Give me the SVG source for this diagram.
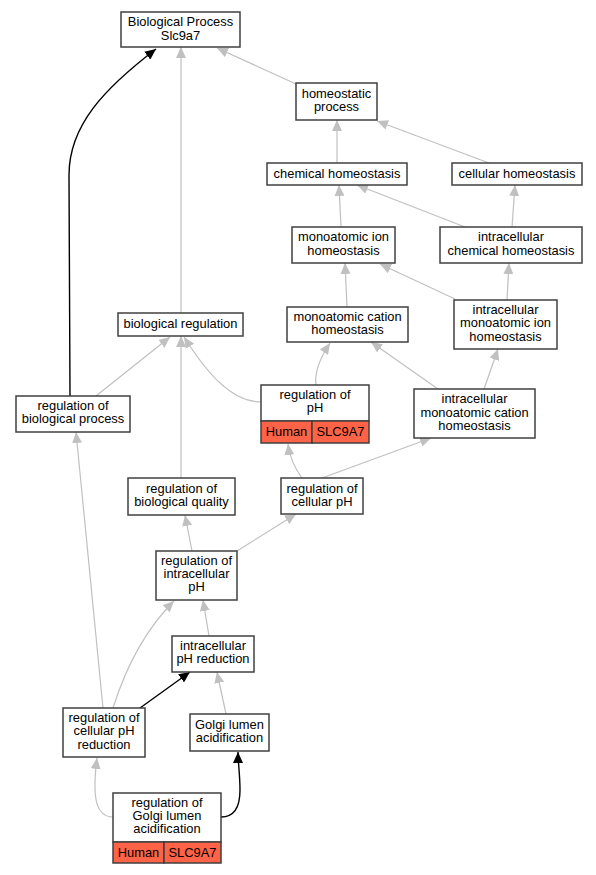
<svg xmlns="http://www.w3.org/2000/svg" width="596" height="875" viewBox="0 0 596 875">
<style>
.n rect{fill:#fff;stroke:#404040;stroke-width:1.5}
.n rect.o{fill:#ff6347}
text{font-family:"Liberation Sans",Arial,sans-serif;font-size:12.9px;text-anchor:middle;fill:#000}
.e path{fill:none;stroke:#c0c0c0;stroke-width:1.2}
.e path.b{stroke:#000;stroke-width:1.4}
</style>
<defs>
<marker id="g" viewBox="0 0 11 10" refX="11" refY="5" markerWidth="11" markerHeight="10" markerUnits="userSpaceOnUse" orient="auto"><path d="M0,0L11,5L0,10z" fill="#c0c0c0"/></marker>
<marker id="k" viewBox="0 0 11 10" refX="11" refY="5" markerWidth="11" markerHeight="10" markerUnits="userSpaceOnUse" orient="auto"><path d="M0,0L11,5L0,10z" fill="#000"/></marker>
</defs>
<rect width="596" height="875" fill="#fff"/>
<g class="e">
<path class="b" d="M70,396 L69,175 C69,125 105,88 156,49" marker-end="url(#k)"/>
<path d="M181,313 L181,47" marker-end="url(#g)"/>
<path d="M296,84 L217,48" marker-end="url(#g)"/>
<path d="M337,163 L337,120" marker-end="url(#g)"/>
<path d="M489,163 L377,121" marker-end="url(#g)"/>
<path d="M341,227 L339,185" marker-end="url(#g)"/>
<path d="M465,227 L357,185" marker-end="url(#g)"/>
<path d="M512,227 L515,185" marker-end="url(#g)"/>
<path d="M347,307 L345,263" marker-end="url(#g)"/>
<path d="M455,299 L380,264" marker-end="url(#g)"/>
<path d="M507,300 L509,263" marker-end="url(#g)"/>
<path d="M316,385 C314,370 322,355 330,343" marker-end="url(#g)"/>
<path d="M438,389 L371,342" marker-end="url(#g)"/>
<path d="M484,389 L498,349" marker-end="url(#g)"/>
<path d="M261,402 C230,402 205,370 184,337" marker-end="url(#g)"/>
<path d="M96,396 L170,337" marker-end="url(#g)"/>
<path d="M181,478 L181,336" marker-end="url(#g)"/>
<path d="M302,478 C296,470 290,460 288,444" marker-end="url(#g)"/>
<path d="M322,478 L431,438" marker-end="url(#g)"/>
<path d="M192,551 L185,515" marker-end="url(#g)"/>
<path d="M237,551 L296,514" marker-end="url(#g)"/>
<path d="M103,708 L76,432" marker-end="url(#g)"/>
<path d="M113,708 C125,670 145,630 174,601" marker-end="url(#g)"/>
<path class="b" d="M140,708 L190,672" marker-end="url(#k)"/>
<path d="M209,636 L203,600" marker-end="url(#g)"/>
<path d="M226,714 L217,672" marker-end="url(#g)"/>
<path d="M113,817 C93,817 93,790 97,758" marker-end="url(#g)"/>
<path class="b" d="M221,817 C235,817 240,805 240,790 C240,775 238,762 238,752" marker-end="url(#k)"/>
</g>
<g id="n_bp" class="n"><rect x="121" y="12" width="119" height="35"/><text x="180.5" y="26">Biological Process</text><text x="180.5" y="40">Slc9a7</text></g>
<g id="n_homeo" class="n"><rect x="296" y="83" width="81" height="37"/><text x="336.5" y="98">homeostatic</text><text x="336.5" y="111">process</text></g>
<g id="n_chem" class="n"><rect x="267" y="163" width="140" height="22"/><text x="337" y="178">chemical homeostasis</text></g>
<g id="n_cell" class="n"><rect x="452" y="163" width="130" height="22"/><text x="517" y="178">cellular homeostasis</text></g>
<g id="n_monoion" class="n"><rect x="292" y="227" width="103" height="36"/><text x="343.5" y="241">monoatomic ion</text><text x="343.5" y="255">homeostasis</text></g>
<g id="n_intrachem" class="n"><rect x="440" y="227" width="142" height="36"/><text x="511" y="241">intracellular</text><text x="511" y="255">chemical homeostasis</text></g>
<g id="n_monocat" class="n"><rect x="287" y="307" width="121" height="35"/><text x="347.5" y="321">monoatomic cation</text><text x="347.5" y="334">homeostasis</text></g>
<g id="n_intramonoion" class="n"><rect x="454" y="300" width="103" height="49"/><text x="505.5" y="314">intracellular</text><text x="505.5" y="327">monoatomic ion</text><text x="505.5" y="341">homeostasis</text></g>
<g id="n_biore" class="n"><rect x="118" y="313" width="125" height="23"/><text x="180.5" y="328">biological regulation</text></g>
<g id="n_regph" class="n"><rect x="261" y="385" width="108" height="36"/><text x="315" y="399">regulation of</text><text x="315" y="412">pH</text><rect class="o" x="261" y="421" width="51" height="22"/><rect class="o" x="312" y="421" width="57" height="22"/><text x="286.5" y="436">Human</text><text x="340.5" y="436">SLC9A7</text></g>
<g id="n_intramonocat" class="n"><rect x="414" y="389" width="121" height="49"/><text x="474.5" y="403">intracellular</text><text x="474.5" y="417">monoatomic cation</text><text x="474.5" y="430">homeostasis</text></g>
<g id="n_regbp" class="n"><rect x="16" y="396" width="114" height="36"/><text x="73" y="410">regulation of</text><text x="73" y="423">biological process</text></g>
<g id="n_regbq" class="n"><rect x="128" y="478" width="107" height="37"/><text x="181.5" y="493">regulation of</text><text x="181.5" y="506">biological quality</text></g>
<g id="n_regcph" class="n"><rect x="281" y="478" width="82" height="36"/><text x="322" y="493">regulation of</text><text x="322" y="506">cellular pH</text></g>
<g id="n_regiph" class="n"><rect x="156" y="551" width="81" height="49"/><text x="196.5" y="565">regulation of</text><text x="196.5" y="578">intracellular</text><text x="196.5" y="591">pH</text></g>
<g id="n_iphred" class="n"><rect x="172" y="636" width="82" height="36"/><text x="213" y="650">intracellular</text><text x="213" y="663">pH reduction</text></g>
<g id="n_regcphred" class="n"><rect x="63" y="708" width="82" height="49"/><text x="104" y="722">regulation of</text><text x="104" y="735">cellular pH</text><text x="104" y="749">reduction</text></g>
<g id="n_golgi" class="n"><rect x="190" y="714" width="79" height="37"/><text x="229.5" y="729">Golgi lumen</text><text x="229.5" y="742">acidification</text></g>
<g id="n_reggolgi" class="n"><rect x="113" y="793" width="108" height="49"/><text x="167" y="807">regulation of</text><text x="167" y="820">Golgi lumen</text><text x="167" y="833">acidification</text><rect class="o" x="113" y="842" width="51" height="21"/><rect class="o" x="164" y="842" width="57" height="21"/><text x="138.5" y="857">Human</text><text x="192.5" y="857">SLC9A7</text></g>
</svg>
